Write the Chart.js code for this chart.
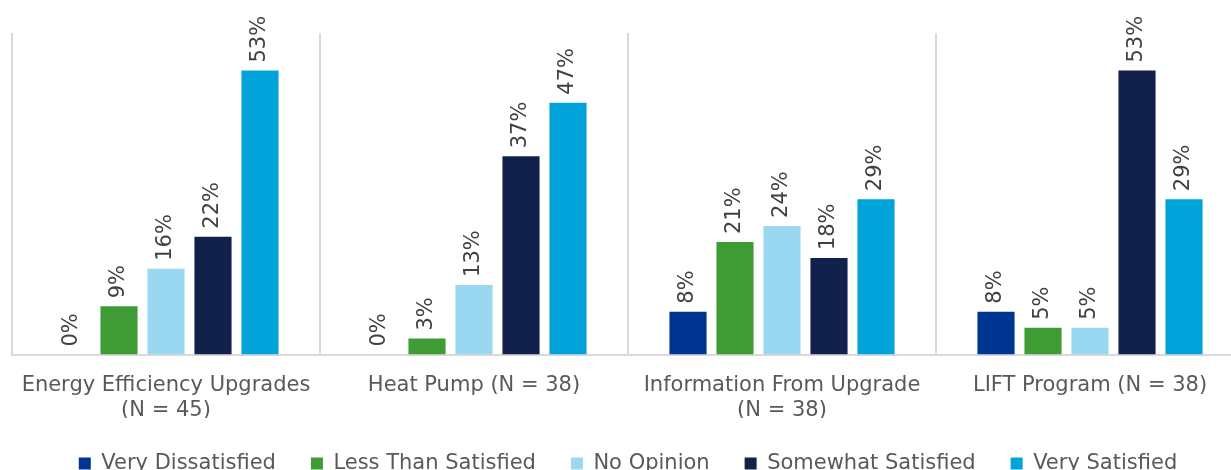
<!DOCTYPE html>
<html>
<head>
<meta charset="utf-8">
<script src="https://cdn.jsdelivr.net/npm/chart.js@4"></script>
<style>
  body { margin: 0; overflow: hidden; background: #fff; }
  #chart { position: absolute; left: 0; top: 0; }
</style>
</head>
<body>
<canvas id="chart" width="1272" height="470"></canvas>
<script>
const categories = [
  ["Energy Efficiency Upgrades", "(N = 45)"],
  "Heat Pump (N = 38)",
  ["Information From Upgrade", "(N = 38)"],
  "LIFT Program (N = 38)"
];
const seriesNames = ["Very Dissatisfied", "Less Than Satisfied", "No Opinion", "Somewhat Satisfied", "Very Satisfied"];
const veryDissatisfied = [0, 0, 8, 8];
const lessThanSatisfied = [9, 3, 21, 5];
const noOpinion = [16, 13, 24, 5];
const somewhatSatisfied = [22, 37, 18, 53];
const verySatisfied = [53, 47, 29, 29];
const colors = ["#003591", "#3f9c35", "#9ad7f0", "#11214b", "#00a3da"];

const values = [veryDissatisfied, lessThanSatisfied, noOpinion, somewhatSatisfied, verySatisfied];

// rotated percent labels above each bar
const barLabels = {
  id: "barLabels",
  afterDatasetsDraw(chart) {
    const ctx = chart.ctx;
    ctx.save();
    ctx.font = "21px 'DejaVu Sans'";
    ctx.fillStyle = "#404040";
    ctx.textAlign = "left";
    ctx.textBaseline = "middle";
    chart.data.datasets.forEach((ds, i) => {
      chart.getDatasetMeta(i).data.forEach((bar, j) => {
        ctx.save();
        ctx.translate(bar.x, bar.y - 8);
        ctx.rotate(-Math.PI / 2);
        ctx.fillText(ds.data[j] + "%", 0, 0);
        ctx.restore();
      });
    });
    ctx.restore();
  }
};

new Chart(document.getElementById("chart"), {
  type: "bar",
  data: {
    labels: categories,
    datasets: seriesNames.map((name, i) => ({
      label: name,
      data: values[i],
      backgroundColor: colors[i],
      barPercentage: 0.79,
      categoryPercentage: 0.763
    }))
  },
  options: {
    responsive: false,
    animation: false,
    layout: { padding: { top: 33, left: 12, right: 28, bottom: -14 } },
    plugins: {
      legend: {
        position: "bottom",
        labels: {
          font: { family: "DejaVu Sans", size: 21 },
          color: "#595959",
          boxWidth: 12,
          boxHeight: 12,
          padding: 35
        }
      },
      tooltip: { enabled: false }
    },
    scales: {
      x: {
        grid: { color: "#d9d9d9", lineWidth: 2, drawTicks: false },
        border: { color: "#d9d9d9", width: 2 },
        ticks: {
          font: { family: "DejaVu Sans", size: 21 },
          color: "#595959",
          padding: 18,
          maxRotation: 0
        },
        // let the plot reach down into the legend's spare room
        afterFit(scale) { scale.height -= 23; }
      },
      y: { display: false, min: 0, max: 60 }
    }
  },
  plugins: [barLabels]
});
</script>
</body>
</html>
